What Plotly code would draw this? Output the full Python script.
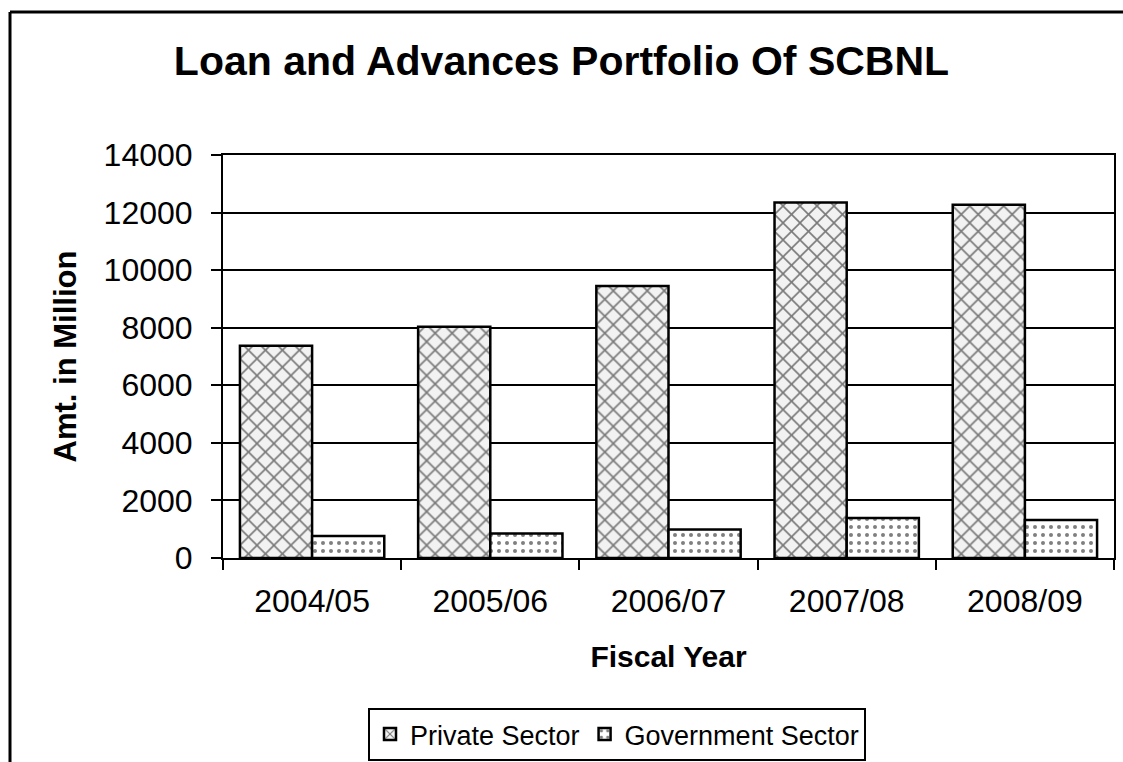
import plotly.graph_objects as go

years = ["2004/05", "2005/06", "2006/07", "2007/08", "2008/09"]
private_sector = [7370, 8030, 9450, 12350, 12270]
government_sector = [760, 850, 990, 1390, 1320]
y_ticks = [0, 2000, 4000, 6000, 8000, 10000, 12000, 14000]

FONT = "Liberation Sans, Arial, sans-serif"
W, H = 1123, 762
L, R, T, B = 223, 9, 155, 204
pw, ph = W - L - R, H - T - B

def px_x(px):
    return (px - L) / pw

def px_y(py):
    return (H - B - py) / ph

fig = go.Figure()
fig.add_trace(go.Bar(
    x=years, y=private_sector, name="Private Sector",
    marker=dict(color="white", line=dict(color="black", width=2.5),
                pattern=dict(shape="x", fgcolor="black", bgcolor="#f2f2f2", size=12, solidity=0.25)),
))
fig.add_trace(go.Bar(
    x=years, y=government_sector, name="Government Sector",
    marker=dict(color="white", line=dict(color="black", width=2.5),
                pattern=dict(shape=".", fgcolor="black", bgcolor="white", size=8, solidity=0.2)),
))

border = dict(color="black", width=3)
fig.update_layout(
    width=W, height=H,
    margin=dict(l=L, r=R, t=T, b=B, autoexpand=False),
    paper_bgcolor="white", plot_bgcolor="white",
    font=dict(family=FONT, color="black", size=28),
    barmode="group", bargap=0.19, bargroupgap=0,
    title=dict(text="<b>Loan and Advances Portfolio Of SCBNL</b>", x=0.5, xref="container",
               xanchor="center", y=1 - 61 / H, yref="container", yanchor="middle",
               font=dict(size=41, family=FONT, color="black")),
    showlegend=True,
    legend=dict(orientation="h", x=px_x(617), xanchor="center", y=px_y(708), yanchor="top",
                bordercolor="black", borderwidth=2, bgcolor="white",
                font=dict(size=27, family=FONT), itemwidth=30, traceorder="normal"),
    shapes=[
        dict(type="line", xref="paper", yref="paper",
             x0=px_x(10), x1=px_x(1123), y0=px_y(12), y1=px_y(12), line=border, layer="below"),
        dict(type="line", xref="paper", yref="paper",
             x0=px_x(10), x1=px_x(10), y0=px_y(12), y1=px_y(762), line=border, layer="below"),
    ],
)

fig.update_xaxes(
    type="category", showline=True, linecolor="black", linewidth=2, mirror=True,
    ticks="outside", ticklen=10, tickwidth=2, tickcolor="black", tickson="boundaries",
    showgrid=False, tickfont=dict(size=32, family=FONT), ticklabelstandoff=14,
    automargin=False,
    title=dict(text="<b>Fiscal Year</b>", font=dict(size=30, family=FONT), standoff=28),
)
fig.update_yaxes(
    range=[0, 14000], tickvals=y_ticks, ticktext=[str(v) for v in y_ticks],
    showline=True, linecolor="black", linewidth=2, mirror=True,
    ticks="outside", ticklen=10, tickwidth=2, tickcolor="black",
    showgrid=True, gridcolor="black", gridwidth=2, zeroline=False,
    tickfont=dict(size=32, family=FONT), ticklabelstandoff=12,
    automargin=False,
    title=dict(text="<b>Amt. in Million</b>", font=dict(size=31, family=FONT), standoff=18),
)

fig.write_html("out.html", config={"displayModeBar": False},
               post_script="document.body.style.margin='0';")
